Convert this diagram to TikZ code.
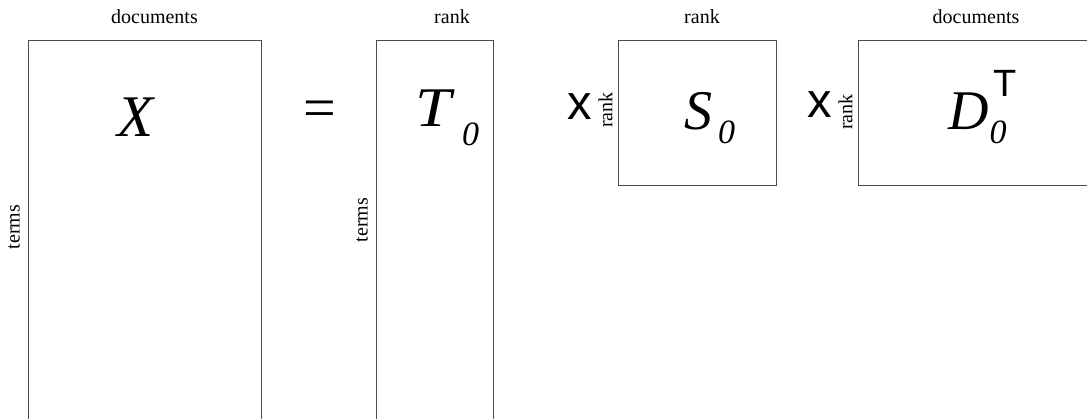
\documentclass[tikz,border=0pt]{standalone}
\usepackage{fontspec}
\setmainfont{Liberation Serif}
\newfontfamily\sansfam{Liberation Sans}
\usetikzlibrary{positioning}
\tikzset{
  mtx/.style={draw=black!70, line width=0.9pt, rectangle, anchor=north west, inner sep=0pt},
  dimlbl/.style={font=\fontsize{20}{20}\selectfont, inner sep=0pt},
  rdim/.style={dimlbl, rotate=90},
  sym/.style={font=\fontsize{56}{56}\selectfont\itshape, inner sep=0pt, anchor=base west},
  prod/.style={font=\fontsize{49}{49}\selectfont\sansfam, inner sep=0pt, anchor=base west},
  prodim/.style={font=\fontsize{20}{20}\selectfont, inner sep=0pt, rotate=90}
}
\newcommand{\subz}[1]{\raisebox{-#1}{\fontsize{34}{34}\selectfont\itshape 0}}

\begin{document}
\begin{tikzpicture}[x=1pt, y=-1pt]
\useasboundingbox (0,0) rectangle (1087,419);
% matrices
\node[mtx, minimum width=233pt, minimum height=384pt] (Xm) at (28,40) {};
\node[mtx, minimum width=117pt, minimum height=384pt] (Tm) at (376,40) {};
\node[mtx, minimum width=158pt, minimum height=145pt] (Sm) at (618,40) {};
\node[mtx, minimum width=235pt, minimum height=145pt] (Dm) at (858,40) {};
% dimensions
\node[dimlbl] (Xcols) at (154.5,17) {documents};
\node[rdim] (Xrows) at (14,227) {terms};
\node[dimlbl] (Tcols) at (452,17) {rank};
\node[rdim] (Trows) at (362,220) {terms};
\node[dimlbl] (Scols) at (702,17) {rank};
\node[dimlbl] (Dcols) at (976,17) {documents};
% symbols
\node[sym, font=\fontsize{59}{59}\selectfont\itshape] (Xs) at (117,137) {X};
\node[font=\fontsize{58}{58}\selectfont, inner sep=0pt] (eq) at (320,114) {=};
\node[sym] (Ts) at (415,127) {\scalebox{1.15}[1]{T}\kern11pt\subz{19pt}};
\node[prod] (x1) at (567,120) {x};
\node[prodim] (r1) at (605.5,110) {rank};
\node[sym] (Ss) at (684,130) {S\kern6pt\subz{14pt}};
\node[prod] (x2) at (807,118) {x};
\node[prodim] (r2) at (845.5,112) {rank};
\node[sym] (Ds) at (948,130) {D\kern1pt\rlap{\subz{14pt}}\kern4pt\raisebox{33pt}{\fontsize{38}{38}\selectfont\sansfam\upshape T}};
\end{tikzpicture}
\end{document}
